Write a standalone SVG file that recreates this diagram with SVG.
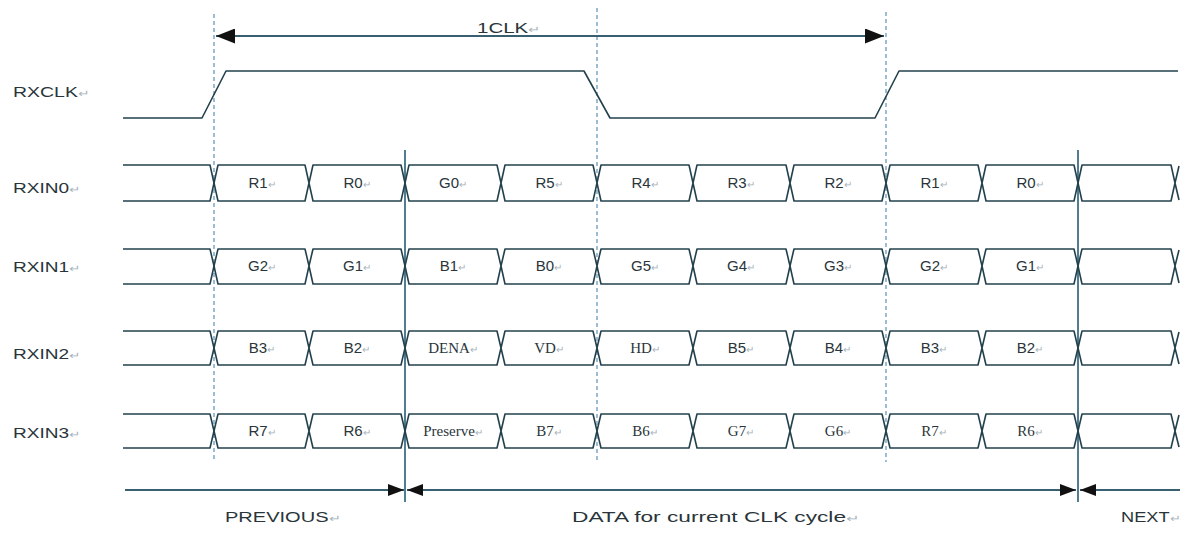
<svg xmlns="http://www.w3.org/2000/svg" width="1192" height="534" viewBox="0 0 1192 534">
<style>
.sig{fill:none;stroke:#23414c;stroke-width:1.6;stroke-linejoin:round}
.dash{stroke:#5b92b4;stroke-width:1.2;stroke-dasharray:4 3}
.solid{stroke:#3f6f85;stroke-width:1.8}
.arr{stroke:#3a5f70;stroke-width:2}
.lbl{font-family:"Liberation Sans",Arial,sans-serif;font-size:14px;fill:#2a353a}
.cell{font-family:"Liberation Sans",Arial,sans-serif;font-size:15px;fill:#2a353a;text-anchor:middle}
.ser{font-family:"Liberation Serif","Times New Roman",serif;font-size:15px;fill:#2a353a;text-anchor:middle}
.rm{fill:#a7b4bb;font-size:10px}
</style>
<defs>
<marker id="ah" viewBox="0 0 16 12" refX="16" refY="6" markerWidth="16" markerHeight="12" markerUnits="userSpaceOnUse" orient="auto-start-reverse"><path d="M0,0 L16,6 L0,12 Z" fill="#111"/></marker>
<marker id="ahb" viewBox="0 0 19 15" refX="19" refY="7.5" markerWidth="19" markerHeight="15" markerUnits="userSpaceOnUse" orient="auto-start-reverse"><path d="M0,0 L19,7.5 L0,15 Z" fill="#111"/></marker>
</defs>

<g id="guides">
<line class="dash" x1="214" y1="14" x2="214" y2="462"/>
<line class="dash" x1="597" y1="8" x2="597" y2="462"/>
<line class="dash" x1="886" y1="12" x2="886" y2="462"/>
<line class="solid" x1="405" y1="150" x2="405" y2="502"/>
<line class="solid" x1="1078" y1="150" x2="1078" y2="502"/>
</g>

<g id="connectors">
<line class="arr" x1="216" y1="36" x2="884" y2="36" marker-start="url(#ahb)" marker-end="url(#ahb)"/>
<line class="arr" x1="125" y1="490" x2="404" y2="490" marker-end="url(#ah)"/>
<line class="arr" x1="407" y1="490" x2="1076" y2="490" marker-start="url(#ah)" marker-end="url(#ah)"/>
<line class="arr" x1="1080" y1="490" x2="1180" y2="490" marker-start="url(#ah)"/>
</g>

<g id="labels">
<text class="lbl" x="477" y="33" textLength="63" lengthAdjust="spacingAndGlyphs">1CLK<tspan class="rm">↵</tspan></text>
<text class="lbl" x="13" y="97" textLength="76" lengthAdjust="spacingAndGlyphs">RXCLK<tspan class="rm">↵</tspan></text>
<text class="lbl" x="13" y="193" textLength="67" lengthAdjust="spacingAndGlyphs">RXIN0<tspan class="rm">↵</tspan></text>
<text class="lbl" x="13" y="272" textLength="67" lengthAdjust="spacingAndGlyphs">RXIN1<tspan class="rm">↵</tspan></text>
<text class="lbl" x="13" y="359" textLength="67" lengthAdjust="spacingAndGlyphs">RXIN2<tspan class="rm">↵</tspan></text>
<text class="lbl" x="13" y="438" textLength="67" lengthAdjust="spacingAndGlyphs">RXIN3<tspan class="rm">↵</tspan></text>
<text class="lbl" x="225" y="522" textLength="115" lengthAdjust="spacingAndGlyphs">PREVIOUS<tspan class="rm">↵</tspan></text>
<text class="lbl" x="572" y="522" textLength="287" lengthAdjust="spacingAndGlyphs">DATA for current CLK cycle<tspan class="rm">↵</tspan></text>
<text class="lbl" x="1121" y="522" textLength="59" lengthAdjust="spacingAndGlyphs">NEXT<tspan class="rm">↵</tspan></text>
</g>

<g id="RXCLK">
<path class="sig" d="M123,118 L202,118 L226,71 L584,71 L610,118 L875,118 L899,71 L1178,71"/>
</g>

<g id="RXIN0">
<path class="sig" d="M123,165 L210,165 L214,183 L210,201 L123,201"/>
<path class="sig" d="M214,183 L218,165 L305,165 L309,183 L305,201 L218,201 Z M309,183 L313,165 L401,165 L405,183 L401,201 L313,201 Z M405,183 L409,165 L497,165 L501,183 L497,201 L409,201 Z M501,183 L505,165 L593,165 L597,183 L593,201 L505,201 Z M597,183 L601,165 L689,165 L693,183 L689,201 L601,201 Z M693,183 L697,165 L786,165 L790,183 L786,201 L697,201 Z M790,183 L794,165 L882,165 L886,183 L882,201 L794,201 Z M886,183 L890,165 L978,165 L982,183 L978,201 L890,201 Z M982,183 L986,165 L1074,165 L1078,183 L1074,201 L986,201 Z M1078,183 L1082,165 L1171,165 L1175,183 L1171,201 L1082,201 Z M1175,183 L1179,166 M1175,183 L1179,200"/>
<text class="cell" x="262" y="188">R1<tspan class="rm">↵</tspan></text>
<text class="cell" x="357" y="188">R0<tspan class="rm">↵</tspan></text>
<text class="cell" x="453" y="188">G0<tspan class="rm">↵</tspan></text>
<text class="cell" x="549" y="188">R5<tspan class="rm">↵</tspan></text>
<text class="cell" x="645" y="188">R4<tspan class="rm">↵</tspan></text>
<text class="cell" x="741" y="188">R3<tspan class="rm">↵</tspan></text>
<text class="cell" x="838" y="188">R2<tspan class="rm">↵</tspan></text>
<text class="cell" x="934" y="188">R1<tspan class="rm">↵</tspan></text>
<text class="cell" x="1030" y="188">R0<tspan class="rm">↵</tspan></text>
</g>

<g id="RXIN1">
<path class="sig" d="M123,249 L210,249 L214,266 L210,284 L123,284"/>
<path class="sig" d="M214,266 L218,249 L305,249 L309,266 L305,284 L218,284 Z M309,266 L313,249 L401,249 L405,266 L401,284 L313,284 Z M405,266 L409,249 L497,249 L501,266 L497,284 L409,284 Z M501,266 L505,249 L593,249 L597,266 L593,284 L505,284 Z M597,266 L601,249 L689,249 L693,266 L689,284 L601,284 Z M693,266 L697,249 L786,249 L790,266 L786,284 L697,284 Z M790,266 L794,249 L882,249 L886,266 L882,284 L794,284 Z M886,266 L890,249 L978,249 L982,266 L978,284 L890,284 Z M982,266 L986,249 L1074,249 L1078,266 L1074,284 L986,284 Z M1078,266 L1082,249 L1171,249 L1175,266 L1171,284 L1082,284 Z M1175,266 L1179,250 M1175,266 L1179,283"/>
<text class="cell" x="262" y="271">G2<tspan class="rm">↵</tspan></text>
<text class="cell" x="357" y="271">G1<tspan class="rm">↵</tspan></text>
<text class="cell" x="453" y="271">B1<tspan class="rm">↵</tspan></text>
<text class="cell" x="549" y="271">B0<tspan class="rm">↵</tspan></text>
<text class="cell" x="645" y="271">G5<tspan class="rm">↵</tspan></text>
<text class="cell" x="741" y="271">G4<tspan class="rm">↵</tspan></text>
<text class="cell" x="838" y="271">G3<tspan class="rm">↵</tspan></text>
<text class="cell" x="934" y="271">G2<tspan class="rm">↵</tspan></text>
<text class="cell" x="1030" y="271">G1<tspan class="rm">↵</tspan></text>
</g>

<g id="RXIN2">
<path class="sig" d="M123,331 L210,331 L214,348 L210,365 L123,365"/>
<path class="sig" d="M214,348 L218,331 L305,331 L309,348 L305,365 L218,365 Z M309,348 L313,331 L401,331 L405,348 L401,365 L313,365 Z M405,348 L409,331 L497,331 L501,348 L497,365 L409,365 Z M501,348 L505,331 L593,331 L597,348 L593,365 L505,365 Z M597,348 L601,331 L689,331 L693,348 L689,365 L601,365 Z M693,348 L697,331 L786,331 L790,348 L786,365 L697,365 Z M790,348 L794,331 L882,331 L886,348 L882,365 L794,365 Z M886,348 L890,331 L978,331 L982,348 L978,365 L890,365 Z M982,348 L986,331 L1074,331 L1078,348 L1074,365 L986,365 Z M1078,348 L1082,331 L1171,331 L1175,348 L1171,365 L1082,365 Z M1175,348 L1179,332 M1175,348 L1179,364"/>
<text class="cell" x="262" y="353">B3<tspan class="rm">↵</tspan></text>
<text class="cell" x="357" y="353">B2<tspan class="rm">↵</tspan></text>
<text class="ser" x="453" y="353">DENA<tspan class="rm">↵</tspan></text>
<text class="ser" x="549" y="353">VD<tspan class="rm">↵</tspan></text>
<text class="ser" x="645" y="353">HD<tspan class="rm">↵</tspan></text>
<text class="cell" x="741" y="353">B5<tspan class="rm">↵</tspan></text>
<text class="cell" x="838" y="353">B4<tspan class="rm">↵</tspan></text>
<text class="cell" x="934" y="353">B3<tspan class="rm">↵</tspan></text>
<text class="cell" x="1030" y="353">B2<tspan class="rm">↵</tspan></text>
</g>

<g id="RXIN3">
<path class="sig" d="M123,414 L210,414 L214,431 L210,448 L123,448"/>
<path class="sig" d="M214,431 L218,414 L305,414 L309,431 L305,448 L218,448 Z M309,431 L313,414 L401,414 L405,431 L401,448 L313,448 Z M405,431 L409,414 L497,414 L501,431 L497,448 L409,448 Z M501,431 L505,414 L593,414 L597,431 L593,448 L505,448 Z M597,431 L601,414 L689,414 L693,431 L689,448 L601,448 Z M693,431 L697,414 L786,414 L790,431 L786,448 L697,448 Z M790,431 L794,414 L882,414 L886,431 L882,448 L794,448 Z M886,431 L890,414 L978,414 L982,431 L978,448 L890,448 Z M982,431 L986,414 L1074,414 L1078,431 L1074,448 L986,448 Z M1078,431 L1082,414 L1171,414 L1175,431 L1171,448 L1082,448 Z M1175,431 L1179,415 M1175,431 L1179,447"/>
<text class="cell" x="262" y="436">R7<tspan class="rm">↵</tspan></text>
<text class="cell" x="357" y="436">R6<tspan class="rm">↵</tspan></text>
<text class="ser" x="453" y="436">Preserve<tspan class="rm">↵</tspan></text>
<text class="ser" x="549" y="436">B7<tspan class="rm">↵</tspan></text>
<text class="ser" x="645" y="436">B6<tspan class="rm">↵</tspan></text>
<text class="ser" x="741" y="436">G7<tspan class="rm">↵</tspan></text>
<text class="ser" x="838" y="436">G6<tspan class="rm">↵</tspan></text>
<text class="ser" x="934" y="436">R7<tspan class="rm">↵</tspan></text>
<text class="ser" x="1030" y="436">R6<tspan class="rm">↵</tspan></text>
</g>
</svg>
